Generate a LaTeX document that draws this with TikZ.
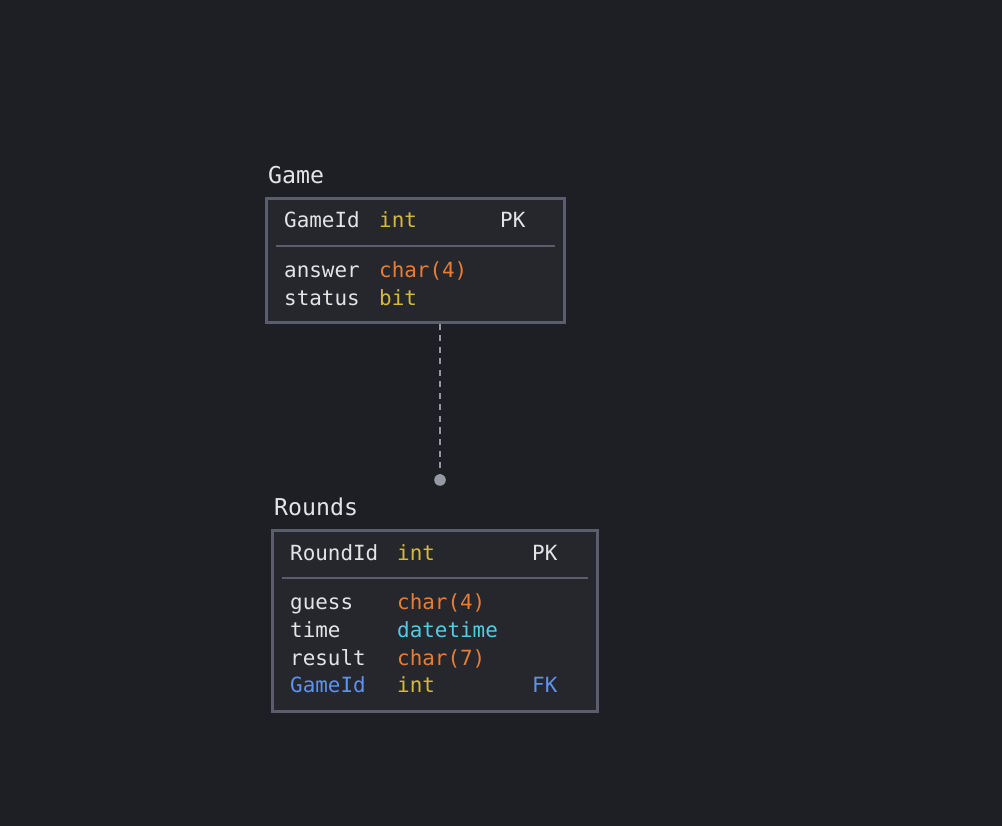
\documentclass[tikz,border=0pt]{standalone}
\usepackage{fontspec}
\setmonofont{DejaVu Sans Mono}
\begin{document}
\definecolor{bg}{RGB}{30,31,36}
\definecolor{boxfill}{RGB}{38,39,45}
\definecolor{boxline}{RGB}{92,93,108}
\definecolor{txt}{RGB}{228,228,230}
\definecolor{tyel}{RGB}{212,186,58}
\definecolor{torg}{RGB}{234,125,52}
\definecolor{tcyan}{RGB}{84,202,232}
\definecolor{tblue}{RGB}{92,146,242}
\definecolor{conn}{RGB}{150,152,162}
\begin{tikzpicture}[x=1pt,y=-1pt,
  tbl/.style={draw=boxline,fill=boxfill,line width=3pt},
  divider/.style={draw=boxline,line width=1.8pt},
  title/.style={anchor=base west,inner sep=0pt,text=txt,font=\ttfamily\fontsize{23.2}{23.2}\selectfont},
  fld/.style={anchor=base west,inner sep=0pt,font=\ttfamily\fontsize{20.9}{20.9}\selectfont},
  nm/.style={fld,text=txt},
  fk/.style={fld,text=tblue},
  ty/.style={fld,text=tyel},
  to/.style={fld,text=torg},
  tc/.style={fld,text=tcyan},
  rel/.style={draw=conn,line width=2pt,dash pattern=on 6pt off 5.5pt}
]
\useasboundingbox[fill=bg] (0,0) rectangle (1002,826);

% Game table
\node[title] (gtitle) at (268,184) {Game};
\draw[tbl] (266.5,198.5) rectangle (564.5,322.5);
\coordinate (gbot) at (440,324);
\draw[divider] (276,246) -- (555,246);
\node[nm] (g1n) at (284,228) {GameId};
\node[ty] (g1t) at (379,228) {int};
\node[nm] (g1k) at (500,228) {PK};
\node[nm] (g2n) at (284,278) {answer};
\node[to] (g2t) at (379,278) {char(4)};
\node[nm] (g3n) at (284,306) {status};
\node[ty] (g3t) at (379,306) {bit};

% Rounds table
\node[title] (rtitle) at (274,515.5) {Rounds};
\draw[tbl] (272.5,530.5) rectangle (597.5,711.5);
\draw[divider] (282,578) -- (588,578);
\node[nm] (r1n) at (290,560) {RoundId};
\node[ty] (r1t) at (397,560) {int};
\node[nm] (r1k) at (532,560) {PK};
\node[nm] (r2n) at (290,609.3) {guess};
\node[to] (r2t) at (397,609.3) {char(4)};
\node[nm] (r3n) at (290,637) {time};
\node[tc] (r3t) at (397,637) {datetime};
\node[nm] (r4n) at (290,665) {result};
\node[to] (r4t) at (397,665) {char(7)};
\node[fk] (r5n) at (290,692.8) {GameId};
\node[ty] (r5t) at (397,692.8) {int};
\node[fk] (r5k) at (532,692.8) {FK};

% relation
\coordinate (rend) at (440,480);
\draw[rel] (gbot) -- (rend);
\fill[conn] (rend) circle (5.8pt);
\end{tikzpicture}
\end{document}
